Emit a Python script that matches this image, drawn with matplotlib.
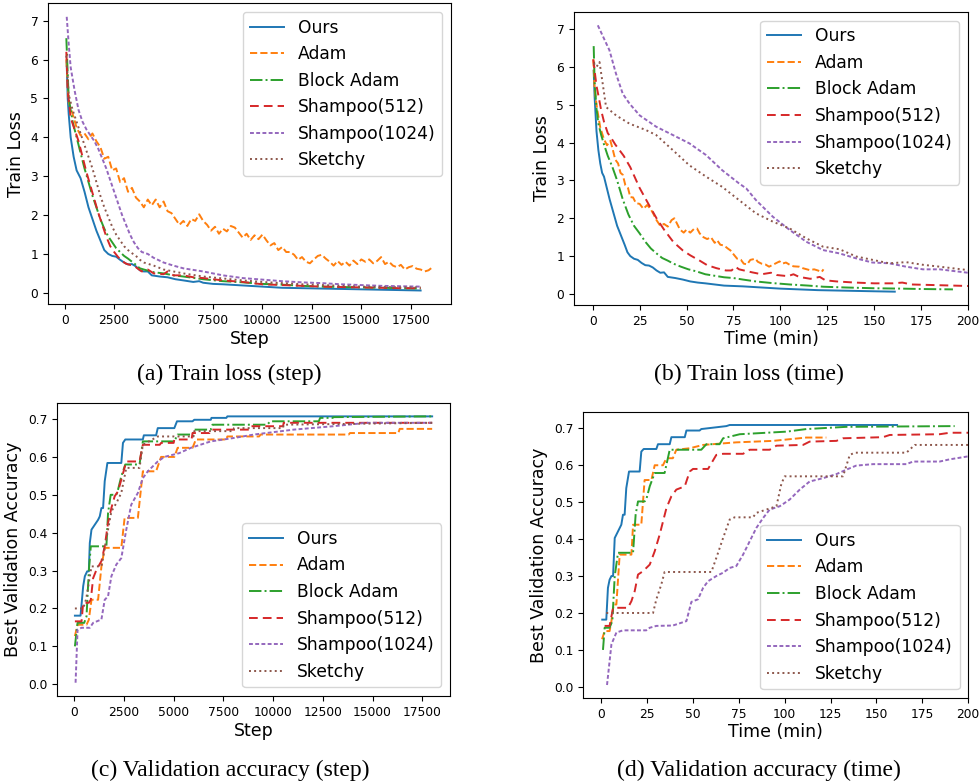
import matplotlib
matplotlib.use("Agg")
import matplotlib.pyplot as plt

# ---------------------------------------------------------------------------
# styles
# ---------------------------------------------------------------------------
LW = 1.4
STYLES = {
    'Ours': dict(color='#1f77b4', linestyle='-'),
    'Adam': dict(color='#ff7f0e', linestyle='--'),
    'Block Adam': dict(color='#2ca02c', linestyle='-.'),
    'Shampoo(512)': dict(color='#d62728', linestyle=(0, (4.5, 2.6))),
    'Shampoo(1024)': dict(color='#9467bd', linestyle=(0, (2, 1.2))),
    'Sketchy': dict(color='#8c564b', linestyle=':'),
}
ORDER = ['Ours', 'Adam', 'Block Adam', 'Shampoo(512)', 'Shampoo(1024)', 'Sketchy']

# ---------------------------------------------------------------------------
# (a) train loss vs step
# ---------------------------------------------------------------------------
a_ours_x = [100, 150, 200, 300, 450, 600, 800, 1000, 1200, 1400, 1600, 1800, 2000, 2200, 2400, 2600,
            2800, 3000, 3200, 3400, 3600, 3800, 4000, 4200, 4400, 4800, 5200, 5600, 6000, 6500, 6800,
            7000, 7500, 8000, 9000, 10000, 11000, 12000, 13000, 14000, 15000, 16000, 17000, 18000]
a_ours_y = [5.9, 5.0, 4.6, 4.0, 3.5, 3.15, 2.95, 2.6, 2.2, 1.9, 1.6, 1.35, 1.1, 1.0, 0.95, 0.93,
            0.85, 0.78, 0.73, 0.74, 0.68, 0.58, 0.55, 0.55, 0.45, 0.42, 0.40, 0.35, 0.32, 0.28, 0.3,
            0.26, 0.23, 0.22, 0.19, 0.16, 0.13, 0.12, 0.11, 0.10, 0.09, 0.08, 0.07, 0.06]

a_adam_x = [80, 200, 400, 600, 800, 1000, 1200, 1400, 1600, 1800, 2000, 2200, 2400, 2600, 2800, 3000,
            3200, 3400, 3600, 3800, 4000, 4200, 4400, 4600, 4800, 5000, 5200, 5400, 5600, 5800, 6000,
            6200, 6400, 6600, 6800, 7000, 7200, 7400, 7600, 7800, 8000, 8200, 8400, 8600, 8800, 9000,
            9200, 9400, 9600, 9800, 10000, 10200, 10400, 10600, 10800, 11000, 11200, 11400, 11600,
            11800, 12000, 12200, 12400, 12600, 12800, 13000, 13200, 13400, 13600, 13800, 14000, 14200,
            14400, 14600, 14800, 15000, 15200, 15400, 15600, 15800, 16000, 16200, 16400, 16600, 16800,
            17000, 17200, 17400, 17600, 17800, 18000, 18200, 18400, 18600]
a_adam_y = [6.0, 4.9, 4.6, 4.25, 4.05, 4.1, 3.95, 4.1, 3.9, 3.75, 3.45, 3.5, 3.15, 3.2, 2.85, 2.95,
            2.6, 2.7, 2.45, 2.35, 2.2, 2.4, 2.25, 2.4, 2.2, 2.35, 2.1, 2.05, 1.9, 1.75, 1.85,
            1.72, 1.9, 1.85, 2.02, 1.85, 1.75, 1.6, 1.7, 1.52, 1.65, 1.58, 1.72, 1.68, 1.55, 1.42,
            1.52, 1.36, 1.48, 1.38, 1.5, 1.35, 1.22, 1.28, 1.1, 1.18, 1.05, 1.05, 0.98,
            0.85, 0.92, 0.8, 0.76, 0.86, 0.95, 0.98, 0.88, 0.8, 0.7, 0.82, 0.72, 0.8,
            0.7, 0.83, 0.74, 0.86, 0.8, 0.86, 0.76, 0.82, 0.92, 0.74, 0.8, 0.7, 0.66,
            0.72, 0.6, 0.66, 0.69, 0.62, 0.6, 0.55, 0.58, 0.66]

a_block_x = [80, 200, 400, 600, 800, 1000, 1200, 1400, 1600, 1800, 2000, 2200, 2400, 2600, 2800, 3000,
             3200, 3400, 3600, 3800, 4000, 4500, 5000, 5500, 6000, 7000, 8000, 9000, 10000, 11000,
             12000, 13000, 14000, 15000, 16000, 17000, 18000]
a_block_y = [6.55, 5.0, 4.4, 4.0, 3.6, 3.2, 2.85, 2.5, 2.2, 1.9, 1.65, 1.45, 1.3, 1.15, 1.05, 0.95,
             0.88, 0.8, 0.72, 0.63, 0.6, 0.53, 0.5, 0.45, 0.42, 0.35, 0.3, 0.27, 0.23, 0.21,
             0.18, 0.16, 0.15, 0.14, 0.13, 0.12, 0.11]

a_sh512_x = [80, 150, 300, 500, 700, 900, 1100, 1300, 1500, 1700, 1900, 2100, 2300, 2500, 2700, 2900,
             3100, 3300, 3500, 3700, 3900, 4200, 4500, 5000, 5200, 5500, 6000, 6500, 7000, 8000, 9000,
             10000, 11000, 12000, 13000, 14000, 15000, 16000, 17000, 18000]
a_sh512_y = [6.2, 5.2, 4.5, 4.2, 3.9, 3.5, 3.1, 2.75, 2.4, 2.05, 1.75, 1.45, 1.2, 1.05, 0.92, 0.82,
             0.75, 0.72, 0.7, 0.62, 0.55, 0.6, 0.5, 0.48, 0.55, 0.45, 0.45, 0.4, 0.38, 0.32, 0.28,
             0.22, 0.2, 0.18, 0.16, 0.15, 0.14, 0.13, 0.12, 0.12]

a_sh1024_x = [100, 200, 300, 500, 700, 900, 1100, 1300, 1500, 1700, 1900, 2100, 2300, 2500, 2700, 2900,
              3100, 3300, 3500, 3700, 3900, 4200, 4500, 5000, 5500, 6000, 7000, 8000, 9000, 10000,
              11000, 12000, 13000, 14000, 15000, 16000, 17000, 18000]
a_sh1024_y = [7.1, 6.4, 5.8, 5.2, 4.7, 4.4, 4.2, 4.05, 3.9, 3.7, 3.45, 3.2, 2.9, 2.6, 2.3, 2.0,
              1.75, 1.5, 1.3, 1.15, 1.05, 1.0, 0.9, 0.78, 0.7, 0.63, 0.55, 0.45, 0.38, 0.34,
              0.3, 0.27, 0.25, 0.22, 0.2, 0.18, 0.17, 0.16]

a_sketchy_x = [80, 200, 400, 600, 800, 1000, 1200, 1400, 1600, 1800, 2000, 2200, 2400, 2600, 2800, 3000,
               3200, 3400, 3600, 3800, 4000, 4500, 5000, 5500, 6000, 7000, 8000, 9000, 10000, 11000,
               12000, 13000, 14000, 15000, 16000, 17000, 18000]
a_sketchy_y = [6.1, 5.1, 4.7, 4.4, 4.1, 3.8, 3.5, 3.2, 2.85, 2.5, 2.2, 1.95, 1.7, 1.5, 1.35, 1.2,
               1.1, 1.02, 0.95, 0.85, 0.78, 0.7, 0.6, 0.55, 0.5, 0.42, 0.37, 0.32, 0.28, 0.25,
               0.22, 0.2, 0.18, 0.16, 0.15, 0.14, 0.14]

# ---------------------------------------------------------------------------
# (b) train loss vs time (min)
# ---------------------------------------------------------------------------
b_ours_x = [0.5, 1, 2, 3, 4, 5, 6, 7.5, 9, 11, 13, 15, 17, 18.5, 20, 22, 24, 26, 28, 30, 32, 34, 36,
            38, 40, 44, 48, 52, 56, 60, 65, 70, 80, 90, 100, 110, 120, 130, 140, 150, 161]
b_ours_y = [5.9, 5.2, 4.3, 3.8, 3.45, 3.2, 3.1, 2.8, 2.5, 2.15, 1.8, 1.55, 1.3, 1.1, 1.0, 0.93, 0.9,
            0.82, 0.76, 0.75, 0.7, 0.62, 0.56, 0.57, 0.45, 0.42, 0.38, 0.33, 0.3, 0.28, 0.25, 0.22,
            0.2, 0.17, 0.14, 0.12, 0.1, 0.09, 0.08, 0.07, 0.06]

b_adam_x = [0.3, 1, 2.3, 4, 5.9, 7.6, 9.4, 10.5, 12, 13.5, 14.8, 16, 17.4, 18.8, 20, 21.5, 23, 25, 27,
            29, 30.8, 32.5, 34, 36, 38, 40, 42, 43.5, 45, 46.5, 48.5, 50, 52, 54, 55.6, 57, 59, 61,
            63, 65, 66.3, 68, 70, 72, 73.4, 75, 77, 79, 80.5, 82.3, 84, 86.7, 88, 90, 92, 94, 96,
            98, 99.6, 101, 103, 105, 107, 110, 112, 115.6, 118, 120, 122, 123]
b_adam_y = [6.2, 5.4, 4.9, 4.4, 4.1, 3.93, 4.05, 3.85, 3.55, 3.45, 3.2, 3.15, 2.87, 2.8, 2.56, 2.55,
            2.4, 2.38, 2.25, 2.35, 2.25, 2.1, 1.95, 1.8, 1.85, 1.78, 1.95, 2.0, 1.85, 1.7, 1.62, 1.7,
            1.62, 1.72, 1.73, 1.6, 1.5, 1.45, 1.5, 1.35, 1.42, 1.3, 1.28, 1.2, 1.15, 1.05, 0.93, 0.9,
            0.8, 0.78, 0.9, 0.93, 0.85, 0.8, 0.78, 0.72, 0.77, 0.82, 0.86, 0.8, 0.83, 0.77, 0.73,
            0.72, 0.68, 0.63, 0.65, 0.62, 0.58, 0.65]

b_block_x = [0.5, 1, 2, 3, 4.5, 6, 8, 10.5, 13, 16, 19, 22, 25, 28, 31, 34, 37, 40, 43, 47, 51, 55,
             60, 65, 70, 75, 80, 87, 95, 105, 115, 123, 135, 150, 165, 175, 192]
b_block_y = [6.55, 5.6, 4.9, 4.5, 4.2, 3.95, 3.65, 3.35, 3.0, 2.5, 2.1, 1.8, 1.6, 1.38, 1.2, 1.07,
             0.95, 0.88, 0.8, 0.72, 0.65, 0.6, 0.52, 0.48, 0.44, 0.42, 0.38, 0.33, 0.29, 0.25, 0.22,
             0.19, 0.17, 0.15, 0.14, 0.13, 0.12]

b_sh512_x = [0.3, 1, 2, 3.2, 4.5, 6, 8, 9.5, 12, 16.5, 20, 25, 30, 34, 38, 43, 48, 52, 57, 61, 66,
             71, 74, 76, 78, 85, 90, 95, 98, 104, 107, 110, 116, 121, 124, 130, 140, 150, 160, 165,
             170, 185, 200, 210]
b_sh512_y = [6.2, 5.9, 5.5, 5.2, 4.85, 4.55, 4.25, 4.15, 3.95, 3.65, 3.35, 2.8, 2.35, 2.0, 1.7, 1.37,
             1.15, 1.02, 0.88, 0.76, 0.68, 0.62, 0.62, 0.72, 0.65, 0.57, 0.52, 0.56, 0.5, 0.47, 0.52,
             0.45, 0.4, 0.45, 0.36, 0.33, 0.3, 0.28, 0.28, 0.3, 0.25, 0.23, 0.21, 0.2]

b_sh1024_x = [2.7, 8.9, 12.4, 16, 19.6, 25, 33.8, 42.7, 51.5, 60.4, 69, 78, 81.8, 87, 96, 105, 113.8,
              122.7, 131.6, 140.4, 149, 158, 167, 176, 185, 200, 210]
b_sh1024_y = [7.1, 6.44, 5.82, 5.29, 5.03, 4.72, 4.42, 4.2, 3.98, 3.67, 3.27, 2.92, 2.79, 2.48, 2.04,
              1.69, 1.38, 1.16, 1.07, 0.94, 0.83, 0.81, 0.72, 0.65, 0.65, 0.56, 0.52]

b_sketchy_x = [0.5, 2, 3.6, 5.3, 7.1, 12.4, 19.6, 28.4, 33.8, 42.7, 51.5, 60.4, 69, 78, 87, 96, 105,
               113.8, 122.7, 131.6, 140.4, 158, 167, 176, 185, 200, 210]
b_sketchy_y = [6.1, 6.0, 6.13, 5.56, 4.94, 4.72, 4.5, 4.33, 4.2, 3.8, 3.4, 3.1, 2.83, 2.48, 2.13,
               1.91, 1.73, 1.47, 1.25, 1.18, 0.99, 0.81, 0.84, 0.77, 0.72, 0.63, 0.6]

# ---------------------------------------------------------------------------
# (c) best validation accuracy vs step
# ---------------------------------------------------------------------------
c_ours_x = [33, 317, 450, 533, 650, 733, 783, 867, 1033, 1200, 1283, 1367, 1450, 1533, 1667, 2367,
            2450, 2567, 3450, 3500, 4117, 4200, 5033, 5167, 5950, 6033, 6867, 6900, 7650, 7700, 18000]
c_ours_y = [0.181, 0.181, 0.259, 0.285, 0.298, 0.298, 0.373, 0.408, 0.421, 0.434, 0.443, 0.465,
            0.465, 0.536, 0.584, 0.584, 0.637, 0.646, 0.646, 0.657, 0.657, 0.676, 0.676, 0.694,
            0.694, 0.698, 0.698, 0.703, 0.703, 0.707, 0.707]

c_adam_x = [33, 167, 617, 733, 867, 1200, 1367, 1533, 2367, 2533, 3200, 3450, 4117, 4367, 5033,
            5200, 5950, 6117, 7650, 7700, 9300, 9367, 13800, 13867, 16300, 16367, 18000]
c_adam_y = [0.127, 0.157, 0.157, 0.17, 0.223, 0.223, 0.311, 0.36, 0.36, 0.439, 0.439, 0.562,
            0.562, 0.6, 0.6, 0.624, 0.624, 0.646, 0.646, 0.654, 0.654, 0.659, 0.659, 0.663,
            0.663, 0.674, 0.674]

c_block_x = [33, 167, 500, 617, 733, 833, 1617, 1700, 1833, 2117, 2200, 2367, 2567, 3283, 3450,
             5033, 5200, 5950, 6033, 6867, 6950, 9700, 9867, 12300, 12367, 13000, 13033, 18000]
c_block_y = [0.10, 0.162, 0.162, 0.179, 0.298, 0.364, 0.364, 0.452, 0.5, 0.5, 0.513, 0.549, 0.58,
             0.58, 0.641, 0.641, 0.659, 0.659, 0.672, 0.672, 0.685, 0.685, 0.694, 0.694, 0.703,
             0.703, 0.705, 0.707]

c_sh512_x = [33, 367, 450, 733, 833, 950, 1117, 1367, 1533, 1700, 1867, 2033, 2200, 2367, 2617,
             3283, 3450, 4300, 4367, 5000, 5033, 5900, 5950, 6800, 6867, 8800, 8867, 10500, 10533,
             18000]
c_sh512_y = [0.166, 0.166, 0.215, 0.215, 0.223, 0.28, 0.302, 0.325, 0.364, 0.426, 0.465, 0.496,
             0.509, 0.54, 0.588, 0.588, 0.632, 0.632, 0.637, 0.637, 0.646, 0.646, 0.663, 0.663,
             0.672, 0.672, 0.681, 0.681, 0.69, 0.69]

c_sh1024_x = [67, 167, 367, 783, 950, 1367, 1533, 1700, 1867, 2117, 2367, 2617, 2867, 3200, 3450,
              3700, 4200, 4533, 5283, 5867, 6867, 8033, 9033, 11033, 13033, 14700, 18000]
c_sh1024_y = [0.004, 0.144, 0.149, 0.149, 0.162, 0.171, 0.223, 0.232, 0.285, 0.316, 0.333, 0.408,
              0.474, 0.505, 0.544, 0.562, 0.588, 0.6, 0.61, 0.624, 0.641, 0.65, 0.659, 0.672,
              0.681, 0.69, 0.69]

c_sketchy_x = [33, 450, 600, 867, 1367, 1533, 1867, 2117, 2367, 2617, 3283, 3450, 4200, 6000, 6033,
               8000, 8033, 10500, 10533, 18000]
c_sketchy_y = [0.2, 0.2, 0.225, 0.311, 0.311, 0.36, 0.456, 0.478, 0.505, 0.571, 0.571, 0.632,
               0.654, 0.654, 0.668, 0.668, 0.676, 0.676, 0.685, 0.69]

# ---------------------------------------------------------------------------
# (d) best validation accuracy vs time (min)
# ---------------------------------------------------------------------------
d_ours_x = [0.5, 2.7, 3.6, 4.5, 5.5, 6.4, 7.3, 9.1, 10.9, 11.8, 12.7, 13.6, 15.1, 20.9, 21.8, 23.1,
            30.0, 30.9, 37.3, 38.2, 45.5, 46.4, 53.6, 54.5, 68.2, 70.0, 161.3]
d_ours_y = [0.182, 0.182, 0.268, 0.29, 0.3, 0.3, 0.403, 0.421, 0.439, 0.466, 0.466, 0.538, 0.583,
            0.583, 0.637, 0.644, 0.644, 0.657, 0.657, 0.676, 0.676, 0.694, 0.694, 0.698, 0.706,
            0.709, 0.709]

d_adam_x = [0.4, 1.8, 4.5, 5.5, 6.7, 8.2, 10.0, 16.4, 17.3, 21.8, 23.6, 27.3, 29.1, 33.6, 35.5,
            39.0, 40.9, 48.2, 55.5, 73.6, 93.6, 111.8, 122.7]
d_adam_y = [0.129, 0.151, 0.151, 0.178, 0.223, 0.223, 0.358, 0.358, 0.439, 0.439, 0.56, 0.56, 0.6,
            0.6, 0.619, 0.619, 0.642, 0.646, 0.655, 0.662, 0.666, 0.675, 0.675]

d_block_x = [0.9, 1.8, 4.5, 6.0, 7.3, 9.1, 17.3, 18.7, 20.0, 23.6, 24.5, 26.4, 29.1, 34.5, 37.3,
             54.5, 57.3, 64.5, 66.4, 75.5, 101.0, 111.8, 133.6, 192.7]
d_block_y = [0.10, 0.16, 0.16, 0.178, 0.3, 0.363, 0.363, 0.466, 0.502, 0.502, 0.507, 0.543, 0.579,
             0.579, 0.642, 0.642, 0.657, 0.657, 0.673, 0.684, 0.691, 0.698, 0.704, 0.706]

d_sh512_x = [1.8, 4.5, 6.4, 14.5, 16.4, 18.2, 20.0, 22.7, 26.4, 29.1, 31.8, 35.5, 38.2, 40.9, 45.5,
             48.2, 50.0, 58.2, 62.7, 66.4, 77.3, 80.9, 91.8, 95.5, 110.0, 113.6, 128.2, 131.8,
             153.6, 157.3, 184.5, 190.0, 205.0]
d_sh512_y = [0.165, 0.165, 0.214, 0.214, 0.232, 0.259, 0.304, 0.313, 0.331, 0.367, 0.412, 0.484,
             0.516, 0.534, 0.543, 0.583, 0.59, 0.59, 0.628, 0.631, 0.631, 0.642, 0.642, 0.653,
             0.655, 0.664, 0.666, 0.673, 0.676, 0.682, 0.684, 0.688, 0.688]

d_sh1024_x = [3.1, 5.5, 8.2, 11.8, 24.5, 26.4, 30.0, 39.0, 46.4, 49.1, 52.7, 55.5, 58.2, 62.7, 66.4,
              70.0, 73.6, 77.3, 80.9, 84.5, 88.2, 91.8, 97.3, 102.7, 108.2, 113.6, 120.9, 128.2,
              133.6, 139.0, 148.2, 166.4, 170.0, 184.5, 190.0, 200.0, 205.0]
d_sh1024_y = [0.005, 0.115, 0.147, 0.153, 0.153, 0.16, 0.165, 0.166, 0.178, 0.23, 0.237, 0.268,
              0.286, 0.3, 0.309, 0.322, 0.327, 0.358, 0.394, 0.43, 0.457, 0.48, 0.489, 0.507,
              0.534, 0.556, 0.565, 0.576, 0.588, 0.599, 0.603, 0.603, 0.61, 0.61, 0.616, 0.624,
              0.626]

d_sketchy_x = [2.7, 28.2, 30.0, 32.7, 34.5, 60.0, 62.7, 66.4, 70.0, 72.7, 82.7, 84.5, 90.0, 95.5,
               98.2, 100.0, 131.8, 135.5, 138.2, 166.4, 170.9, 205.0]
d_sketchy_y = [0.2, 0.2, 0.237, 0.277, 0.311, 0.311, 0.349, 0.403, 0.453, 0.459, 0.459, 0.471,
               0.48, 0.489, 0.55, 0.57, 0.57, 0.628, 0.634, 0.634, 0.655, 0.655]

PANELS = [
    dict(rect=[0.049, 0.612, 0.411, 0.384],
         series={'Ours': (a_ours_x, a_ours_y), 'Adam': (a_adam_x, a_adam_y),
                 'Block Adam': (a_block_x, a_block_y), 'Shampoo(512)': (a_sh512_x, a_sh512_y),
                 'Shampoo(1024)': (a_sh1024_x, a_sh1024_y), 'Sketchy': (a_sketchy_x, a_sketchy_y)},
         xlabel='Step', ylabel='Train Loss', legend='upper right', xlim=None,
         xticks=[0, 2500, 5000, 7500, 10000, 12500, 15000, 17500], yticks=list(range(8)),
         caption='(a) Train loss (step)', cap_xy=(0.234, 0.522)),
    dict(rect=[0.5857, 0.611, 0.402, 0.3737],
         series={'Ours': (b_ours_x, b_ours_y), 'Adam': (b_adam_x, b_adam_y),
                 'Block Adam': (b_block_x, b_block_y), 'Shampoo(512)': (b_sh512_x, b_sh512_y),
                 'Shampoo(1024)': (b_sh1024_x, b_sh1024_y), 'Sketchy': (b_sketchy_x, b_sketchy_y)},
         xlabel='Time (min)', ylabel='Train Loss', legend='upper right', xlim=(-10, 200),
         xticks=[0, 25, 50, 75, 100, 125, 150, 175, 200], yticks=list(range(8)),
         caption='(b) Train loss (time)', cap_xy=(0.764, 0.522)),
    dict(rect=[0.0582, 0.1122, 0.401, 0.3737],
         series={'Ours': (c_ours_x, c_ours_y), 'Adam': (c_adam_x, c_adam_y),
                 'Block Adam': (c_block_x, c_block_y), 'Shampoo(512)': (c_sh512_x, c_sh512_y),
                 'Shampoo(1024)': (c_sh1024_x, c_sh1024_y), 'Sketchy': (c_sketchy_x, c_sketchy_y)},
         xlabel='Step', ylabel='Best Validation Accuracy', legend='lower right', xlim=None,
         xticks=[0, 2500, 5000, 7500, 10000, 12500, 15000, 17500],
         yticks=[0.0, 0.1, 0.2, 0.3, 0.4, 0.5, 0.6, 0.7],
         caption='(c) Validation accuracy (step)', cap_xy=(0.235, 0.017)),
    dict(rect=[0.5949, 0.1097, 0.3929, 0.3648],
         series={'Ours': (d_ours_x, d_ours_y), 'Adam': (d_adam_x, d_adam_y),
                 'Block Adam': (d_block_x, d_block_y), 'Shampoo(512)': (d_sh512_x, d_sh512_y),
                 'Shampoo(1024)': (d_sh1024_x, d_sh1024_y), 'Sketchy': (d_sketchy_x, d_sketchy_y)},
         xlabel='Time (min)', ylabel='Best Validation Accuracy', legend='lower right',
         xlim=(-10, 200), xticks=[0, 25, 50, 75, 100, 125, 150, 175, 200],
         yticks=[0.0, 0.1, 0.2, 0.3, 0.4, 0.5, 0.6, 0.7],
         caption='(d) Validation accuracy (time)', cap_xy=(0.774, 0.017)),
]

fig = plt.figure(figsize=(9.8, 7.84), dpi=100)

for p in PANELS:
    ax = fig.add_axes(p['rect'])
    for name in ORDER:
        xs, ys = p['series'][name]
        ax.plot(xs, ys, linewidth=LW, label=name, **STYLES[name])
    if p['xlim']:
        ax.set_xlim(p['xlim'])
    ax.set_xticks(p['xticks'])
    ax.set_yticks(p['yticks'])
    if p['ylabel'].startswith('Best'):
        ax.set_yticklabels([f'{v:.1f}' for v in p['yticks']])
    ax.tick_params(labelsize=8.8)
    ax.set_xlabel(p['xlabel'], fontsize=12.5, labelpad=2)
    ax.set_ylabel(p['ylabel'], fontsize=12.5, labelpad=4)
    ax.legend(loc=p['legend'], fontsize=12.3, handlelength=2.0)
    fig.text(p['cap_xy'][0], p['cap_xy'][1], p['caption'], ha='center', va='center',
             fontsize=17, family='Liberation Serif')

fig.savefig('out.png', dpi=100, facecolor='white')
